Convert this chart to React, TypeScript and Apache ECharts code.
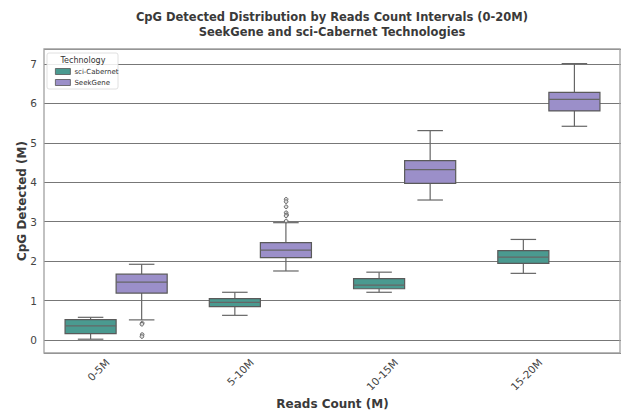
import React, { useEffect, useRef } from 'react';
import * as echarts from 'echarts';

const categories = ['0-5M', '5-10M', '10-15M', '15-20M'];
const technologies = ['sci-Cabernet', 'SeekGene'];
// each row: [lower whisker, Q1, median, Q3, upper whisker]
const sciCabernetBoxes = [
  [0.02, 0.16, 0.36, 0.515, 0.575],
  [0.625, 0.845, 0.955, 1.05, 1.21],
  [1.21, 1.3, 1.39, 1.555, 1.72],
  [1.69, 1.945, 2.1, 2.265, 2.55],
];
const seekGeneBoxes = [
  [0.51, 1.19, 1.47, 1.67, 1.92],
  [1.75, 2.09, 2.28, 2.47, 2.975],
  [3.55, 3.97, 4.32, 4.55, 5.31],
  [5.42, 5.81, 6.1, 6.28, 7.01],
];
// outliers: [category index, value]
const seekGeneOutliers = [
  [0, 0.46], [0, 0.42], [0, 0.17], [0, 0.11],
  [1, 3.59], [1, 3.53], [1, 3.4], [1, 3.25], [1, 3.21], [1, 3.17], [1, 3.04],
];
const sciCabernetOutliers: number[][] = [];
const yMin = -0.33;
const yMax = 7.38;

const COLORS = ['#4a9a90', '#9b8fc9'];
const LINE = '#666';
const FONT = 'DejaVu Sans';
const BOX_FRAC = 0.354;

function boxRenderer(side: number, color: string) {
  return (params: any, api: any) => {
    const ci = api.value(0);
    const band = api.size([1, 0])[0];
    const w = band * BOX_FRAC;
    const cx = api.coord([ci, 0])[0] + (side * w) / 2;
    const yLo = api.coord([ci, api.value(1)])[1];
    const yQ1 = api.coord([ci, api.value(2)])[1];
    const yMed = api.coord([ci, api.value(3)])[1];
    const yQ3 = api.coord([ci, api.value(4)])[1];
    const yHi = api.coord([ci, api.value(5)])[1];
    const ls = { stroke: LINE, lineWidth: 1.2 };
    return {
      type: 'group',
      children: [
        { type: 'line', shape: { x1: cx, y1: yQ1, x2: cx, y2: yLo }, style: ls },
        { type: 'line', shape: { x1: cx, y1: yQ3, x2: cx, y2: yHi }, style: ls },
        { type: 'line', shape: { x1: cx - w / 4, y1: yLo, x2: cx + w / 4, y2: yLo }, style: ls },
        { type: 'line', shape: { x1: cx - w / 4, y1: yHi, x2: cx + w / 4, y2: yHi }, style: ls },
        {
          type: 'rect',
          shape: { x: cx - w / 2, y: yQ3, width: w, height: yQ1 - yQ3 },
          style: { fill: color, stroke: '#5a5a5a', lineWidth: 1.2 },
        },
        { type: 'line', shape: { x1: cx - w / 2, y1: yMed, x2: cx + w / 2, y2: yMed }, style: ls },
      ],
    };
  };
}

function outlierRenderer(side: number) {
  return (params: any, api: any) => {
    const ci = api.value(0);
    const band = api.size([1, 0])[0];
    const w = band * BOX_FRAC;
    const p = api.coord([ci, api.value(1)]);
    return {
      type: 'circle',
      shape: { cx: p[0] + (side * w) / 2, cy: p[1], r: 1.8 },
      style: { fill: '#e0e0e0', stroke: LINE, lineWidth: 1 },
    };
  };
}

export default function App() {
  const ref = useRef<HTMLDivElement>(null);
  useEffect(() => {
    if (!ref.current) return;
    const chart = echarts.init(ref.current, undefined, { renderer: 'svg' });
    const boxSets = [sciCabernetBoxes, seekGeneBoxes];
    const outSets = [sciCabernetOutliers, seekGeneOutliers];
    const series: any[] = [];
    technologies.forEach((name, i) => {
      const side = i === 0 ? -1 : 1;
      series.push({
        name,
        type: 'custom',
        renderItem: boxRenderer(side, COLORS[i]),
        itemStyle: { color: COLORS[i] },
        encode: { x: 0, y: [1, 2, 3, 4, 5] },
        data: boxSets[i].map((b, ci) => [ci, ...b]),
        z: 3,
      });
      series.push({
        name,
        type: 'custom',
        renderItem: outlierRenderer(side),
        itemStyle: { color: COLORS[i] },
        encode: { x: 0, y: 1 },
        data: outSets[i],
        z: 4,
      });
    });
    const left = 44, right = 2, top = 49, bottom = 57;
    const W = 623, H = 410;
    chart.setOption({
      animation: false,
      textStyle: { fontFamily: FONT },
      grid: { left, right, top, bottom, containLabel: false, outerBoundsMode: 'none' },
      legend: {
        data: technologies,
        orient: 'vertical',
        left: 50,
        top: 62,
        icon: 'rect',
        itemWidth: 15,
        itemHeight: 6,
        itemGap: 2,
        itemStyle: { borderColor: '#555', borderWidth: 0.8 },
        textStyle: { fontFamily: FONT, fontSize: 7, color: '#333', lineHeight: 9, padding: [0, 0, 0, -1] },
        selectedMode: false,
        z: 20,
      },
      xAxis: {
        type: 'category',
        data: categories,
        axisTick: { show: false },
        axisLine: { show: false },
        splitLine: { show: false },
        axisLabel: {
          rotate: 45,
          margin: -1,
          fontSize: 10.5,
          color: '#444',
          fontFamily: FONT,
          padding: [0, 12, 0, 0],
        },
        name: 'Reads Count (M)',
        nameLocation: 'middle',
        nameGap: 45,
        nameMoveOverlap: false,
        nameTextStyle: { fontFamily: FONT, fontSize: 12, fontWeight: 'bold', color: '#3a3a3a' },
      },
      yAxis: {
        type: 'value',
        min: yMin,
        max: yMax,
        splitNumber: 8,
        axisLine: { show: false },
        axisTick: { show: false },
        splitLine: { show: true, lineStyle: { color: '#777', width: 1 } },
        axisLabel: {
          margin: 7,
          fontSize: 10.5,
          color: '#444',
          fontFamily: FONT,
          showMinLabel: false,
          showMaxLabel: false,
          formatter: (v: number) => (Math.abs(v - Math.round(v)) < 1e-6 ? String(Math.round(v)) : ''),
        },
        name: 'CpG Detected (M)',
        nameLocation: 'middle',
        nameGap: 16,
        nameMoveOverlap: false,
        nameTextStyle: { fontFamily: FONT, fontSize: 12, fontWeight: 'bold', color: '#3a3a3a' },
      },
      graphic: [
        {
          type: 'text',
          silent: true,
          style: {
            text: 'CpG Detected Distribution by Reads Count Intervals (0-20M)\nSeekGene and sci-Cabernet Technologies',
            x: 332,
            y: 24,
            align: 'center',
            verticalAlign: 'middle',
            fontFamily: FONT,
            fontSize: 11.5,
            fontWeight: 'bold',
            lineHeight: 15,
            fill: '#3a3a3a',
          },
        },
        {
          type: 'rect',
          z: 10,
          silent: true,
          shape: { x: left, y: top, width: W - left - right - 1, height: H - top - bottom },
          style: { fill: 'none', stroke: '#a0a0a0', lineWidth: 1.3 },
        },
        {
          type: 'rect',
          z: 15,
          silent: true,
          shape: { x: 47, y: 53, width: 71, height: 36, r: 2 },
          style: { fill: 'rgba(255,255,255,0.85)', stroke: '#d8d8d8', lineWidth: 0.8 },
        },
        {
          type: 'text',
          z: 16,
          silent: true,
          style: {
            text: 'Technology',
            x: 83,
            y: 60.5,
            align: 'center',
            verticalAlign: 'middle',
            fontFamily: FONT,
            fontSize: 8,
            fill: '#333',
          },
        },
      ],
      series,
    });
    return () => chart.dispose();
  }, []);
  return <div ref={ref} style={{ width: 623, height: 410, position: 'absolute', left: 0, top: 0 }} />;
}
